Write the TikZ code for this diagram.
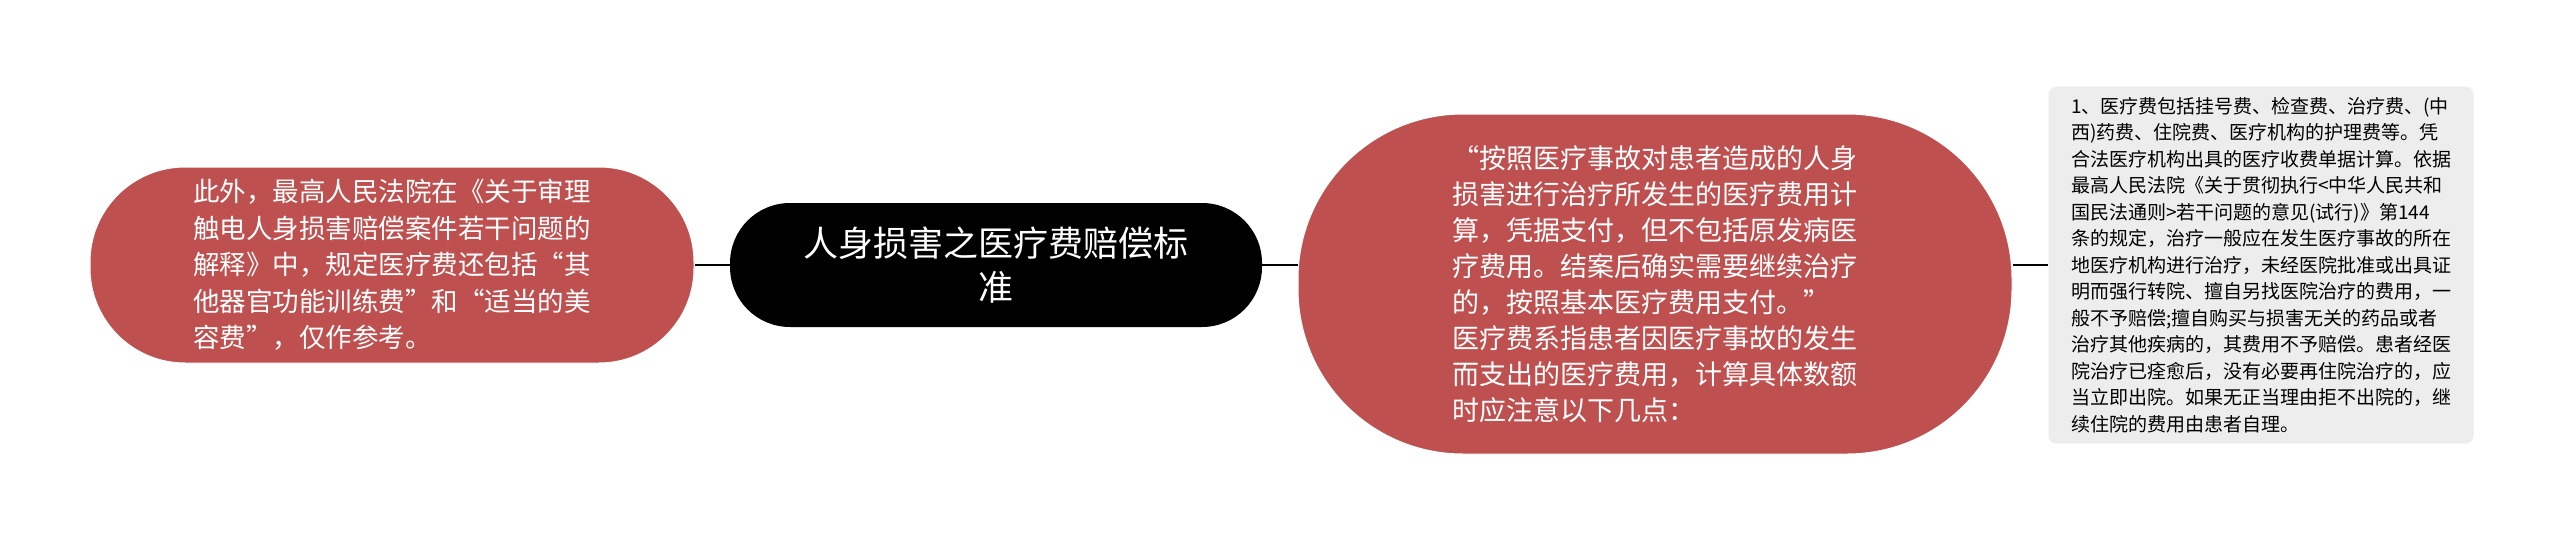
\documentclass[tikz,border=0pt]{standalone}
\usepackage{fontspec}
\setmainfont{Noto Sans CJK SC}
\begin{document}
\definecolor{redb}{RGB}{190,80,79}
\definecolor{grayb}{RGB}{237,237,237}
\tikzset{
 redbox/.style={fill=redb,draw=white,line width=1pt,text=white,align=left,font=\fontsize{26.5}{36.5}\selectfont},
 conn/.style={draw=black,line width=2pt}
}
\begin{tikzpicture}[x=1pt,y=-1pt]
\useasboundingbox (0,0) rectangle (2560,533);
\fill[white] (0,0) rectangle (2560,533);
\node[redbox,minimum width=604,minimum height=196,rounded corners=95] (left) at (392,265) {此外，最高人民法院在《关于审理\\触电人身损害赔偿案件若干问题的\\解释》中，规定医疗费还包括“其\\他器官功能训练费”和“适当的美\\容费”，仅作参考。};
\node[fill=black,text=white,align=center,minimum width=532,minimum height=124,rounded corners=60,font=\fontsize{35}{44}\selectfont] (center) at (996,265) {人身损害之医疗费赔偿标\\准};
\node[redbox,minimum width=714,minimum height=340,rounded corners=165,font=\fontsize{27}{36}\selectfont] (right) at (1655,284) {“按照医疗事故对患者造成的人身\\损害进行治疗所发生的医疗费用计\\算，凭据支付，但不包括原发病医\\疗费用。结案后确实需要继续治疗\\的，按照基本医疗费用支付。”\\医疗费系指患者因医疗事故的发生\\而支出的医疗费用，计算具体数额\\时应注意以下几点：};
\node[fill=grayb,rounded corners=8,minimum width=425,minimum height=357,align=left,font=\fontsize{19}{26.5}\selectfont] (note) at (2261,265) {1、医疗费包括挂号费、检查费、治疗费、(中\\西)药费、住院费、医疗机构的护理费等。凭\\合法医疗机构出具的医疗收费单据计算。依据\\最高人民法院《关于贯彻执行<中华人民共和\\国民法通则>若干问题的意见(试行)》第144\\条的规定，治疗一般应在发生医疗事故的所在\\地医疗机构进行治疗，未经医院批准或出具证\\明而强行转院、擅自另找医院治疗的费用，一\\般不予赔偿;擅自购买与损害无关的药品或者\\治疗其他疾病的，其费用不予赔偿。患者经医\\院治疗已痊愈后，没有必要再住院治疗的，应\\当立即出院。如果无正当理由拒不出院的，继\\续住院的费用由患者自理。};
\draw[conn] (left.east) -- (center.west);
\draw[conn] (center.east) -- (center.east -| right.west);
\draw[conn] (center.east -| right.east) -- (center.east -| note.west);
\end{tikzpicture}
\end{document}
